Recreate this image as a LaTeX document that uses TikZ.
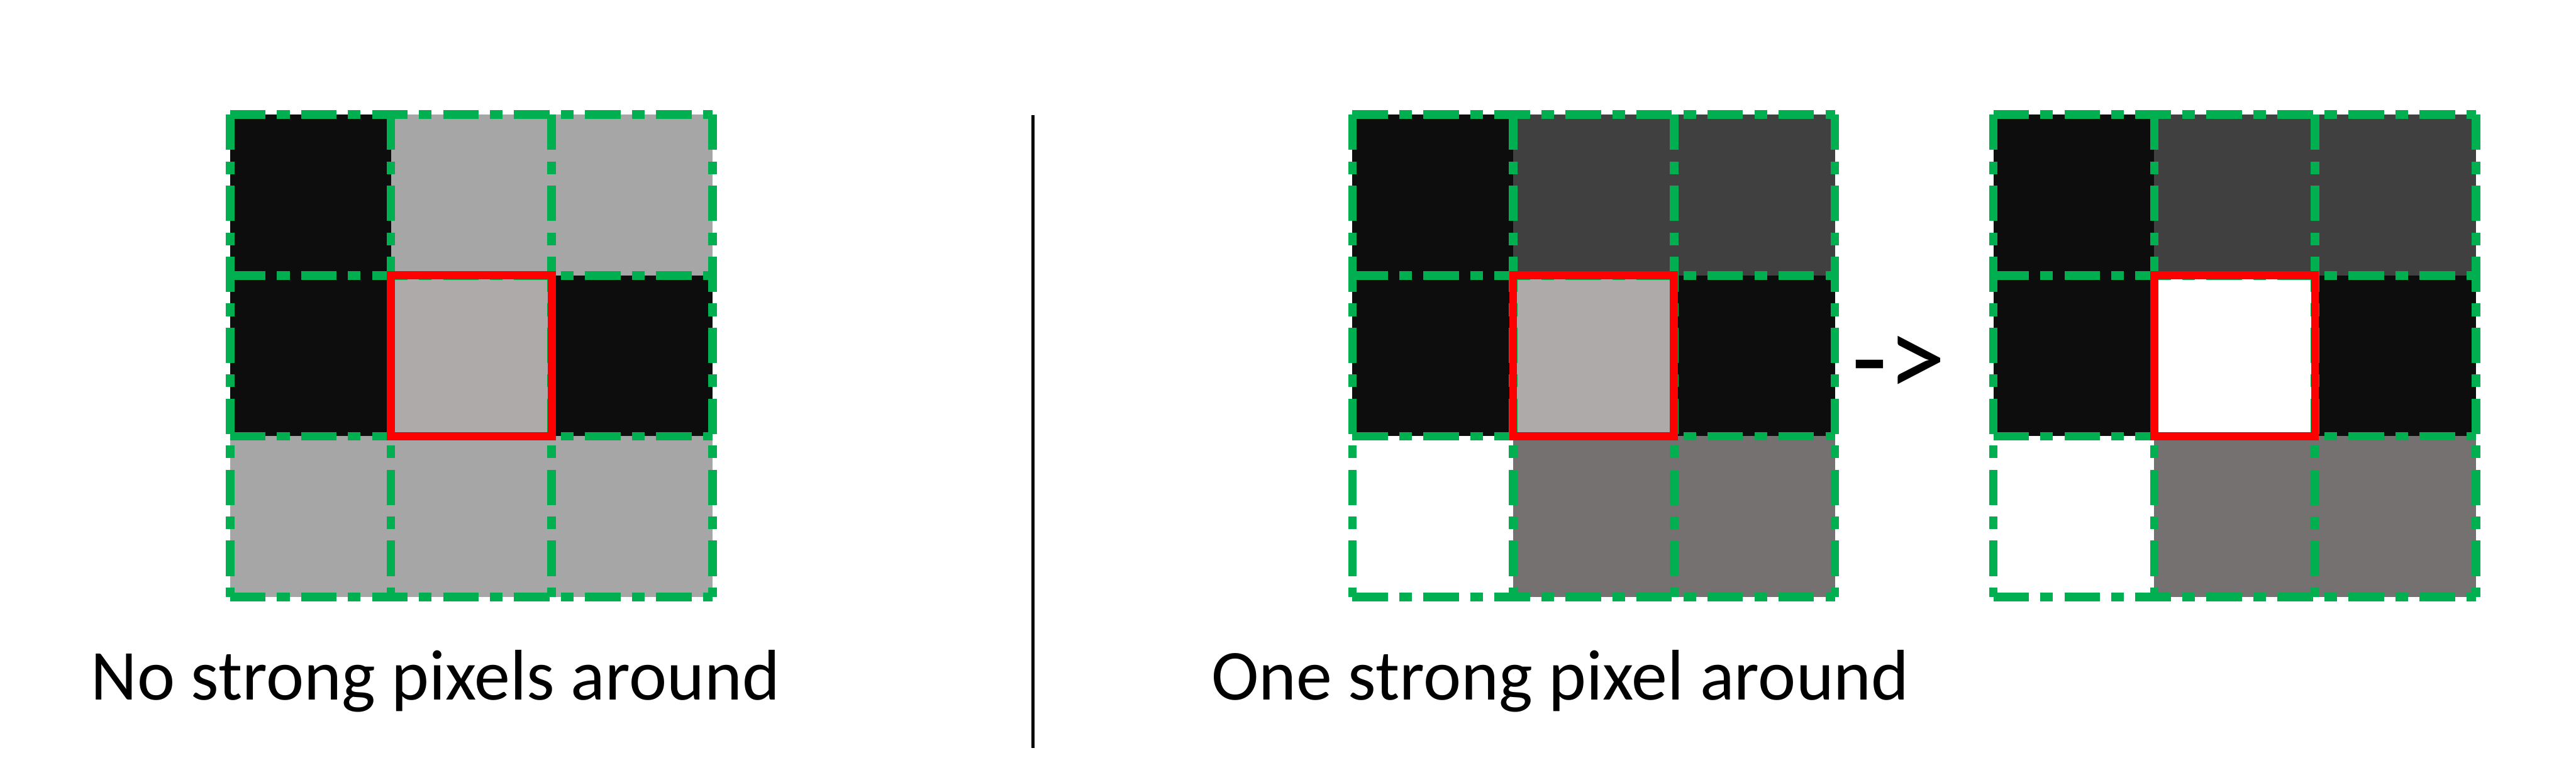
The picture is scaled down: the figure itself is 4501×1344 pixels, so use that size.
\documentclass[tikz,border=0pt]{standalone}
\usepackage{fontspec}
\setmainfont{Carlito}
\definecolor{cblack}{HTML}{0D0D0D}
\definecolor{clight}{HTML}{A6A6A6}
\definecolor{ccenter}{HTML}{AEAAAA}
\definecolor{cdark}{HTML}{404040}
\definecolor{cmid}{HTML}{767171}
\definecolor{gridgreen}{HTML}{00B050}
\definecolor{boxred}{HTML}{FF0000}
\tikzset{
  gl/.style={draw=gridgreen, line width=0.15cm, dash pattern=on 0.62cm off 0.2cm on 0.22cm off 0.2cm},
  redbox/.style={draw=boxred, line width=0.14cm},
  lbl/.style={inner sep=0pt, font=\fontsize{35.6}{42}\selectfont, text=black},
  arrowlbl/.style={inner sep=0pt, font=\fontsize{58}{66}\selectfont, text=black},
  sepline/.style={draw=black, line width=0.05cm}
}
\begin{document}
\begin{tikzpicture}[x=0.01cm,y=-0.01cm]
\useasboundingbox[fill=white] (0,0) rectangle (4501,1344);
% left grid cells
\foreach \col/\row/\clr in {0/0/cblack,1/0/clight,2/0/clight,0/1/cblack,1/1/ccenter,2/1/cblack,0/2/clight,1/2/clight,2/2/clight}
  \fill[\clr] ({402+\col*281},{200+\row*281}) rectangle ++(281,281);
% right grid 1 cells
\foreach \col/\row/\clr in {0/0/cblack,1/0/cdark,2/0/cdark,0/1/cblack,1/1/ccenter,2/1/cblack,0/2/white,1/2/cmid,2/2/cmid}
  \fill[\clr] ({2363+\col*281},{200+\row*281}) rectangle ++(281,281);
% right grid 2 cells
\foreach \col/\row/\clr in {0/0/cblack,1/0/cdark,2/0/cdark,0/1/cblack,1/1/white,2/1/cblack,0/2/white,1/2/cmid,2/2/cmid}
  \fill[\clr] ({3483+\col*281},{200+\row*281}) rectangle ++(281,281);
% green dash-dot grid lines
\foreach \gx in {402,2363,3483}{
  \foreach \k in {0,1,2,3}{
    \draw[gl] (\gx,{200+\k*281}) -- ++(843,0);
    \draw[gl] ({\gx+\k*281},200) -- ++(0,843);
  }
  \draw[redbox] ({\gx+281},481) rectangle ++(281,281);
}
% separator
\coordinate (septop) at (1805,201);
\coordinate (sepbot) at (1805,1306);
\draw[sepline] (septop) -- (sepbot);
% labels
\node[lbl, anchor=base west] (lefttxt) at (158,1222) {No strong pixels around};
\node[lbl, anchor=base west] (righttxt) at (2116,1222) {One strong pixel around};
\node[arrowlbl] (arrowtxt) at (3318,640) {->};
\end{tikzpicture}
\end{document}
